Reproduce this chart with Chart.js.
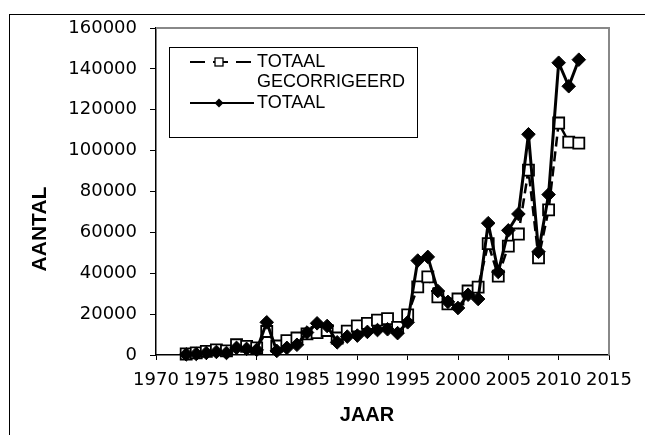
<!DOCTYPE html>
<html lang="nl">
<head>
  <meta charset="UTF-8" />
  <title>Aantal per jaar</title>
  <style>
    body {
      margin: 0;
      background: #fff;
      overflow: hidden;
    }
    .frame {
      position: absolute;
      left: 9px;
      top: 14px;
      width: 700px;
      height: 500px;
      border-left: 1px solid #000;
      border-top: 1px solid #000;
    }
    #chart {
      position: absolute;
      left: 0;
      top: 0;
    }
  </style>
</head>
<body>
  <div class="frame"></div>
  <canvas id="chart" width="645" height="435"></canvas>

  <script src="https://cdn.jsdelivr.net/npm/chart.js"></script>
  <script>
    const years = [1973, 1974, 1975, 1976, 1977, 1978, 1979, 1980, 1981, 1982,
      1983, 1984, 1985, 1986, 1987, 1988, 1989, 1990, 1991, 1992,
      1993, 1994, 1995, 1996, 1997, 1998, 1999, 2000, 2001, 2002,
      2003, 2004, 2005, 2006, 2007, 2008, 2009, 2010, 2011, 2012];

    const totaalGecorrigeerd = [500, 1000, 1800, 2500, 2000, 5000, 4200, 3500, 11500, 4400,
      7000, 8300, 10300, 11000, 12000, 8300, 11700, 14200, 15500, 17100,
      17800, 13500, 19600, 33300, 38200, 28400, 25000, 27400, 31300, 33200,
      54500, 38600, 53300, 59200, 90500, 47500, 71000, 113500, 104200, 103700];

    const totaal = [300, 500, 1000, 1500, 1000, 3500, 3000, 2500, 16000, 2000,
      3500, 5000, 11000, 15500, 14200, 6200, 9000, 9500, 11300, 12200,
      12600, 10700, 16000, 46200, 48000, 31300, 26000, 23000, 29500, 27400,
      64500, 40600, 61000, 69000, 108000, 50500, 78500, 143000, 131500, 144500];

    const xTicks = [1970, 1975, 1980, 1985, 1990, 1995, 2000, 2005, 2010, 2015];
    const yTicks = [0, 20000, 40000, 60000, 80000, 100000, 120000, 140000, 160000];

    const legendLabels = [['TOTAAL', 'GECORRIGEERD'], ['TOTAAL']];

    function toPoints(values) {
      return years.map((yr, i) => ({ x: yr, y: values[i] }));
    }

    // plot border, legend and axis titles
    const decorations = {
      id: 'decorations',
      beforeDatasetsDraw(chart) {
        const { ctx, chartArea: a } = chart;
        ctx.save();
        ctx.strokeStyle = '#888';
        ctx.lineWidth = 2;
        ctx.beginPath();
        ctx.moveTo(a.left, a.top);
        ctx.lineTo(a.right, a.top);
        ctx.lineTo(a.right, a.bottom);
        ctx.stroke();
        ctx.restore();
      },
      afterDraw(chart) {
        const ctx = chart.ctx;
        ctx.save();

        // axis titles
        ctx.fillStyle = '#000';
        ctx.textAlign = 'center';
        ctx.textBaseline = 'middle';
        ctx.font = 'bold 20px "Liberation Sans", Arial, sans-serif';
        ctx.fillText('JAAR', 367, 415);
        ctx.save();
        ctx.translate(40, 229);
        ctx.rotate(-Math.PI / 2);
        ctx.font = 'bold 21px "Liberation Sans", Arial, sans-serif';
        ctx.fillText('AANTAL', 0, 0);
        ctx.restore();

        // legend box
        ctx.fillStyle = '#fff';
        ctx.fillRect(169, 47, 248, 90);
        ctx.strokeStyle = '#000';
        ctx.lineWidth = 1;
        ctx.strokeRect(169.5, 47.5, 248, 90);

        // item 1: dashed line with square
        ctx.lineWidth = 2;
        ctx.setLineDash([15, 8]);
        ctx.beginPath();
        ctx.moveTo(190, 62);
        ctx.lineTo(254, 62);
        ctx.stroke();
        ctx.setLineDash([]);
        ctx.fillStyle = '#fff';
        ctx.fillRect(215, 58, 8, 8);
        ctx.lineWidth = 1.3;
        ctx.strokeRect(215, 58, 8, 8);

        // item 2: solid line with diamond
        ctx.lineWidth = 2;
        ctx.beginPath();
        ctx.moveTo(190, 103);
        ctx.lineTo(254, 103);
        ctx.stroke();
        ctx.fillStyle = '#000';
        ctx.beginPath();
        ctx.moveTo(219, 98.5);
        ctx.lineTo(223.5, 103);
        ctx.lineTo(219, 107.5);
        ctx.lineTo(214.5, 103);
        ctx.closePath();
        ctx.fill();

        ctx.fillStyle = '#000';
        ctx.textAlign = 'left';
        ctx.textBaseline = 'middle';
        ctx.font = '18px "Liberation Sans", Arial, sans-serif';
        ctx.fillText(legendLabels[0][0], 257, 62);
        ctx.fillText(legendLabels[0][1], 257, 82);
        ctx.fillText(legendLabels[1][0], 257, 103);
        ctx.restore();
      }
    };

    const tickFont = { family: '"DejaVu Sans", sans-serif', size: 18 };

    new Chart(document.getElementById('chart'), {
      type: 'line',
      data: {
        datasets: [
          {
            label: 'TOTAAL',
            data: toPoints(totaal),
            borderColor: '#000',
            borderWidth: 3,
            borderJoinStyle: 'round',
            backgroundColor: '#000',
            pointStyle: 'rectRot',
            pointRadius: 6.8,
            pointBorderWidth: 1,
            pointBackgroundColor: '#000',
            pointBorderColor: '#000',
            tension: 0,
            clip: false
          },
          {
            label: 'TOTAAL GECORRIGEERD',
            data: toPoints(totaalGecorrigeerd),
            borderColor: '#000',
            borderWidth: 2.5,
            borderJoinStyle: 'round',
            borderDash: [10, 5],
            pointStyle: 'rect',
            pointRadius: 7.8,
            pointBorderWidth: 1.8,
            pointBackgroundColor: '#fff',
            pointBorderColor: '#000',
            tension: 0,
            clip: false
          }
        ]
      },
      options: {
        responsive: false,
        animation: false,
        devicePixelRatio: 1,
        layout: { padding: { top: 28, right: 36, left: 0, bottom: 0 } },
        plugins: {
          legend: { display: false },
          tooltip: { enabled: false }
        },
        scales: {
          x: {
            type: 'linear',
            min: 1970,
            max: 2015,
            afterFit(s) { s.height = 80; },
            afterBuildTicks(s) { s.ticks = xTicks.map(v => ({ value: v })); },
            ticks: {
              color: '#000',
              font: tickFont,
              padding: 10,
              autoSkip: false,
              maxRotation: 0,
              callback: v => String(v)
            },
            grid: { drawOnChartArea: false, drawTicks: true, tickLength: 5, color: '#000' },
            border: { display: true, color: '#000', width: 1.5 }
          },
          y: {
            min: 0,
            max: 160000,
            afterFit(s) { s.width = 156; },
            afterBuildTicks(s) { s.ticks = yTicks.map(v => ({ value: v })); },
            ticks: {
              color: '#000',
              font: tickFont,
              padding: 13,
              callback: v => String(v)
            },
            grid: { drawOnChartArea: false, drawTicks: true, tickLength: 6, color: '#000' },
            border: { display: true, color: '#000', width: 1.5 }
          }
        }
      },
      plugins: [decorations]
    });
  </script>
</body>
</html>
